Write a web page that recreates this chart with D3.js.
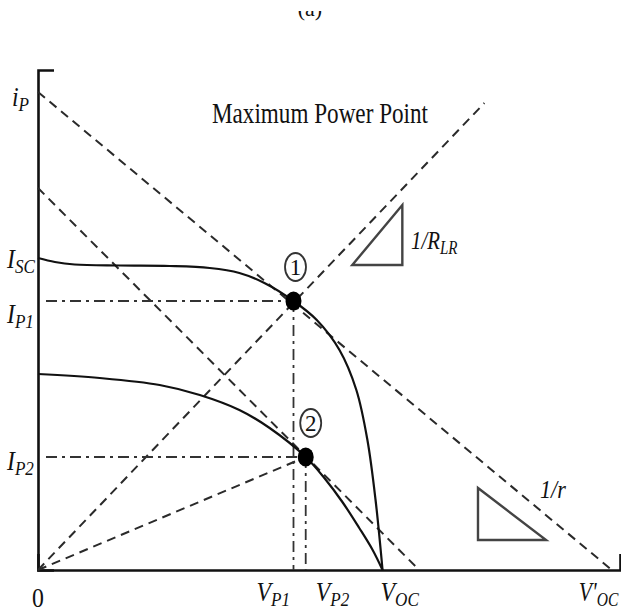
<!DOCTYPE html>
<html>
<head>
<meta charset="utf-8">
<script src="https://cdn.jsdelivr.net/npm/d3@7"></script>
<style>
  html, body { margin: 0; padding: 0; background: #fff; }
  svg { display: block; }
  .lbl { font-family: "Liberation Serif", "Times New Roman", serif; fill: #111; }
</style>
</head>
<body>
<div id="chart"></div>
<script>
// PV characteristic with two operating curves and their maximum power points
const curve1V = [0, 0.29, 0.63, 1.41, 2.26, 2.95, 3.46, 3.89, 4.39, 4.79, 5.18, 5.47, 5.66, 5.80, 5.92];
const curve1I = [6.24, 6.16, 6.11, 6.09, 6.08, 6.04, 5.94, 5.74, 5.38, 5.00, 4.40, 3.60, 2.60, 1.40, 0];
const curve2V = [0, 1.06, 2.09, 2.78, 3.46, 3.98, 4.60, 4.92, 5.23, 5.52, 5.75, 5.92];
const curve2I = [3.92, 3.84, 3.70, 3.50, 3.20, 2.84, 2.26, 1.84, 1.36, 0.84, 0.40, 0];

// maximum power points (1) and (2)
const mppV = [4.39, 4.60];
const mppI = [5.38, 2.26];
const mppNames = ["1", "2"];

// axis marks
const xTickValues = [0, 4.39, 4.60, 5.92, 9.86];
const xTickNames = ["0", "V|P1", "V|P2", "V|OC", "V'|OC"];
const yTickValues = [9.56, 6.24, 5.38, 2.26];
const yTickNames = ["i|P", "I|SC", "I|P1", "I|P2"];

// dashed load / resistance lines: [v0, i0, v1, i1]
const dashedLines = [
  [0, 9.56, 9.86, 0],
  [0, 7.64, 6.55, 0],
  [0, 0, 7.67, 9.34],
  [0, 0, 4.60, 2.26]
];

// slope triangles
const tri1V = [5.40, 6.26, 6.26];
const tri1I = [6.10, 6.10, 7.30];
const tri2V = [7.56, 7.56, 8.73];
const tri2I = [1.64, 0.60, 0.60];

const W = 621, H = 612;
const svg = d3.select("#chart").append("svg").attr("width", W).attr("height", H);

const x = d3.scaleLinear().domain([0, 10]).range([38, 620]);
const y = d3.scaleLinear().domain([0, 10]).range([570, 70]);

// panel caption, partly cut by the top edge
svg.append("clipPath").attr("id", "capclip")
  .append("rect").attr("x", 0).attr("y", 11).attr("width", W).attr("height", 20);
svg.append("text").attr("class", "lbl")
  .attr("clip-path", "url(#capclip)")
  .attr("x", 310).attr("y", 16).attr("text-anchor", "middle")
  .attr("font-size", 22).attr("fill", "#555").text("(a)");

// axes with short end stubs
svg.append("g").attr("transform", `translate(${x(0)},0)`)
  .call(d3.axisLeft(y).tickValues([]).tickSizeOuter(-16))
  .call(g => g.select(".domain").attr("stroke", "#111").attr("stroke-width", 2.6));
svg.append("g").attr("transform", `translate(0,${y(0)})`)
  .call(d3.axisBottom(x).tickValues([]).tickSizeOuter(-16))
  .call(g => g.select(".domain").attr("stroke", "#111").attr("stroke-width", 2.6));

// dashed lines
svg.append("g").selectAll("line").data(dashedLines).join("line")
  .attr("x1", d => x(d[0])).attr("y1", d => y(d[1]))
  .attr("x2", d => x(d[2])).attr("y2", d => y(d[3]))
  .attr("stroke", "#2a2a2a").attr("stroke-width", 2)
  .attr("stroke-dasharray", "9,6");

// dash-dot guides to each maximum power point
const guides = svg.append("g").attr("stroke", "#333").attr("stroke-width", 1.8)
  .attr("stroke-dasharray", "11,5,3,5");
mppV.forEach((v, k) => {
  guides.append("line").attr("x1", x(0) + 8).attr("x2", x(v))
    .attr("y1", y(mppI[k])).attr("y2", y(mppI[k]));
  guides.append("line").attr("x1", x(v)).attr("x2", x(v))
    .attr("y1", y(mppI[k])).attr("y2", y(0));
});

// I-V curves
const line = d3.line().x(d => x(d[0])).y(d => y(d[1])).curve(d3.curveCatmullRom.alpha(0.5));
[[curve1V, curve1I], [curve2V, curve2I]].forEach(([vs, is]) => {
  svg.append("path").datum(vs.map((v, k) => [v, is[k]]))
    .attr("d", line).attr("fill", "none")
    .attr("stroke", "#111").attr("stroke-width", 2.2);
});

// slope triangles
[[tri1V, tri1I], [tri2V, tri2I]].forEach(([vs, is]) => {
  svg.append("polygon")
    .attr("points", vs.map((v, k) => `${x(v)},${y(is[k])}`).join(" "))
    .attr("fill", "none").attr("stroke", "#444").attr("stroke-width", 2.4);
});

// maximum power points
svg.append("g").selectAll("ellipse").data(mppV).join("ellipse")
  .attr("cx", (d, k) => x(d)).attr("cy", (d, k) => y(mppI[k]))
  .attr("rx", 8).attr("ry", 9.5).attr("fill", "#000");

// circled point numbers
const tags = svg.append("g").selectAll("g").data(mppV).join("g")
  .attr("transform", (d, k) => `translate(${x(d) + 2 + k * 3},${y(mppI[k]) - 34})`);
tags.append("ellipse").attr("rx", 10.5).attr("ry", 14)
  .attr("fill", "none").attr("stroke", "#333").attr("stroke-width", 1.8);
tags.append("text").attr("class", "lbl").attr("text-anchor", "middle")
  .attr("y", 8).attr("font-size", 23).text((d, k) => mppNames[k]);

// subscripted label helper
function subLabel(g, str, size) {
  const [main, sub] = str.split("|");
  const t = g.append("text").attr("class", "lbl").attr("font-style", "italic")
    .attr("font-size", size);
  t.append("tspan").text(main);
  if (sub) t.append("tspan").attr("font-size", size * 0.72).attr("dy", 5).text(sub);
  return t;
}

// y-axis labels
const yLabelDy = [14, 10, 22, 13];
yTickValues.forEach((v, k) => {
  const g = svg.append("g")
    .attr("transform", `translate(${k === 0 ? 12 : 7},${y(v) + yLabelDy[k]}) scale(0.88,1)`);
  subLabel(g, yTickNames[k], k === 0 ? 27 : 27);
});

// x-axis labels
const xLabelDx = [-6, -37, 10, -2, -33];
xTickValues.forEach((v, k) => {
  const g = svg.append("g")
    .attr("transform", `translate(${x(v) + xLabelDx[k]},${k === 0 ? 607 : 601}) scale(${k === 4 ? 0.8 : 0.88},1)`);
  if (k === 0) {
    g.append("text").attr("class", "lbl").attr("font-size", 27).text(xTickNames[k]);
  } else {
    subLabel(g, xTickNames[k], 27);
  }
});

// title and slope annotations
svg.append("text").attr("class", "lbl")
  .attr("x", 212).attr("y", 123).attr("font-size", 29)
  .attr("textLength", 216).attr("lengthAdjust", "spacingAndGlyphs")
  .text("Maximum Power Point");

const s1 = svg.append("g").attr("transform", "translate(411,249) scale(0.8,1)");
subLabel(s1, "1/R|LR", 26);
const s2 = svg.append("g").attr("transform", "translate(540,498) scale(0.85,1)");
subLabel(s2, "1/r", 26);
</script>
</body>
</html>
